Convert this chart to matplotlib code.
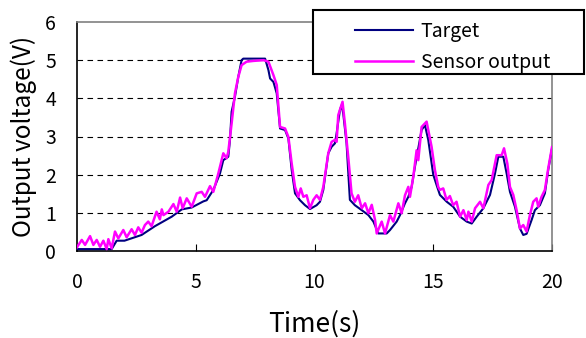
import matplotlib.pyplot as plt
from matplotlib.patches import Rectangle

plt.rcParams['font.family'] = ['Noto Sans CJK JP', 'DejaVu Sans']

# target curve (time s, voltage V)
target_t = [0, 1.46, 1.67, 2.0, 2.72, 3.28, 3.99, 4.41, 4.83, 5.32, 5.46, 5.74, 6.02, 6.16,
            6.37, 6.44, 6.51, 6.65, 6.79, 6.93, 7.0, 7.92, 8.06, 8.13, 8.27, 8.41, 8.55, 8.76,
            8.9, 9.04, 9.18, 9.39, 9.6, 9.81, 10.09, 10.23, 10.37, 10.58, 10.72, 10.86, 10.93,
            11.07, 11.14, 11.21, 11.35, 11.49, 11.7, 11.99, 12.27, 12.48, 12.69, 13.04, 13.18,
            13.46, 13.6, 13.81, 13.95, 14.09, 14.23, 14.37, 14.51, 14.65, 14.79, 15.0, 15.14,
            15.28, 15.57, 15.84, 16.13, 16.41, 16.62, 16.83, 17.11, 17.39, 17.6, 17.74, 17.95,
            18.09, 18.23, 18.44, 18.65, 18.79, 18.93, 19.14, 19.28, 19.49, 19.7, 19.84, 20.0]
target_v = [0.05, 0.05, 0.27, 0.27, 0.42, 0.65, 0.9, 1.09, 1.14, 1.3, 1.33, 1.6, 2.03, 2.38,
            2.47, 2.9, 3.65, 4.04, 4.56, 5.0, 5.04, 5.04, 4.74, 4.52, 4.43, 4.13, 3.21, 3.17,
            2.95, 2.12, 1.51, 1.33, 1.2, 1.1, 1.2, 1.29, 1.6, 2.56, 2.73, 2.82, 3.08,
            3.69, 3.82, 3.6, 2.82, 1.34, 1.2, 1.07, 0.94, 0.77, 0.46, 0.46, 0.55,
            0.77, 0.94, 1.25, 1.42, 1.68, 2.21, 2.69, 3.17, 3.3, 2.91, 2.0, 1.73,
            1.47, 1.29, 1.16, 0.9, 0.77, 0.72, 0.9, 1.12, 1.47, 2.03, 2.47, 2.47,
            2.03, 1.55, 1.16, 0.59, 0.42, 0.45, 0.81, 1.07, 1.2, 1.51, 2.12, 2.69]

# sensor output
sensor_t = [0.0, 0.2, 0.34, 0.55, 0.69, 0.83, 0.97, 1.11, 1.25, 1.32, 1.46, 1.6, 1.74, 1.95,
            2.09, 2.3, 2.44, 2.58, 2.72, 2.86, 3.0, 3.14, 3.35, 3.49, 3.57, 3.64, 3.85, 4.06,
            4.2, 4.34, 4.45, 4.62, 4.83, 5.04, 5.25, 5.39, 5.6, 5.74, 5.95, 6.16, 6.3, 6.37,
            6.51, 6.65, 6.79, 6.93, 7.14, 7.42, 7.85, 8.06, 8.27, 8.41, 8.55, 8.76, 8.9, 9.04,
            9.18, 9.32, 9.42, 9.53, 9.67, 9.81, 9.95, 10.09, 10.23, 10.37, 10.58, 10.72, 10.86,
            10.93, 11.0, 11.18, 11.28, 11.42, 11.56, 11.7, 11.84, 11.99, 12.13, 12.27, 12.41,
            12.55, 12.62, 12.83, 12.97, 13.18, 13.32, 13.53, 13.67, 13.81, 13.95, 14.02, 14.16,
            14.3, 14.37, 14.51, 14.72, 14.93, 15.07, 15.21, 15.28, 15.42, 15.56, 15.7, 15.84,
            15.98, 16.13, 16.27, 16.41, 16.48, 16.62, 16.76, 16.97, 17.11, 17.32, 17.46, 17.67,
            17.88, 17.98, 18.12, 18.23, 18.37, 18.51, 18.65, 18.79, 18.93, 19.07, 19.21, 19.35,
            19.42, 19.56, 19.7, 19.84, 20.0]
sensor_v = [0.1, 0.29, 0.16, 0.39, 0.16, 0.29, 0.11, 0.27, 0.05, 0.31, 0.07, 0.51, 0.33, 0.55,
            0.36, 0.57, 0.42, 0.62, 0.48, 0.68, 0.77, 0.65, 1.03, 0.83, 1.09, 0.94, 1.03, 1.23,
            1.03, 1.4, 1.12, 1.38, 1.16, 1.51, 1.55, 1.42, 1.7, 1.55, 2.03, 2.56, 2.43, 2.6,
            3.34, 4.13, 4.56, 4.87, 4.96, 4.98, 5.0, 4.96, 4.61, 4.35, 3.25, 3.21, 2.99, 2.29,
            1.68, 1.42, 1.64, 1.42, 1.46, 1.12, 1.34, 1.46, 1.34, 1.68, 2.56, 2.86, 2.91,
            2.86, 3.56, 3.91, 3.34, 2.47, 1.51, 1.29, 1.46, 1.12, 1.25, 0.99, 1.21,
            0.81, 0.46, 0.77, 0.46, 0.94, 0.77, 1.25, 0.99, 1.46, 1.68, 1.42, 1.95,
            2.64, 2.38, 3.25, 3.39, 2.73, 2.12, 1.68, 1.6, 1.64, 1.34, 1.44, 1.2,
            1.29, 0.9, 1.07, 0.81, 1.03, 0.77, 1.12, 1.29, 1.12, 1.73, 1.86, 2.51,
            2.51, 2.69, 2.29, 1.68, 1.47, 1.07, 0.59, 0.68, 0.51, 0.94, 1.29, 1.38,
            1.16, 1.42, 1.6, 2.16, 2.72]

fig = plt.figure(figsize=(5.86, 3.38), dpi=100)
ax = fig.add_axes([77/586, 1 - 251/338, 475/586, 229/338])

ax.plot(target_t, target_v, color='#000080', lw=1.5, label='Target', zorder=3)
ax.plot(sensor_t, sensor_v, color='#ff00ff', lw=1.8, label='Sensor output', zorder=4)

ax.set_xlim(0, 20)
ax.set_ylim(0, 6)
ax.set_xticks([0, 5, 10, 15, 20])
ax.set_yticks([0, 1, 2, 3, 4, 5, 6])
for y in [1, 2, 3, 4, 5]:
    ax.axhline(y, color='black', lw=0.8, dashes=(5, 4), zorder=1)

ax.tick_params(axis='both', direction='in', length=5, labelsize=14, pad=15)
ax.tick_params(axis='y', length=0)
ax.spines['top'].set_color('#808080')
ax.spines['right'].set_color('#808080')
for s in ax.spines.values():
    s.set_linewidth(1.2)

ax.set_xlabel('Time(s)', fontsize=19, labelpad=13)
ax.set_ylabel('Output voltage(V)', fontsize=17.5, labelpad=6)

# legend box sticks out past the plot area
fig.patches.append(Rectangle((313/586, 1 - 74/338), 271/586, 64/338, transform=fig.transFigure,
                             facecolor='white', edgecolor='black', lw=1.5, zorder=5))
leg = fig.legend(loc='upper left', bbox_to_anchor=(337/586, 1 - 3/338), frameon=False,
                 fontsize=14, handlelength=3.0, handletextpad=0.4, labelspacing=0.55)
leg.set_zorder(6)

fig.savefig('out.png', dpi=100)
